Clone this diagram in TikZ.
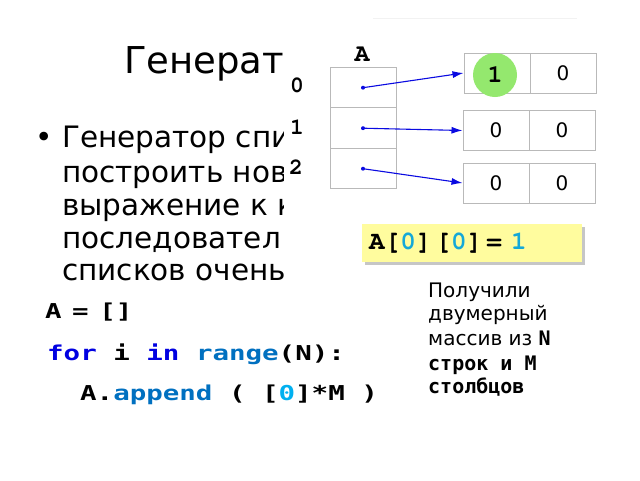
\documentclass[tikz,border=0pt]{standalone}
\usepackage{fontspec}
\setmainfont{DejaVu Sans}
\newfontfamily\codefont{DejaVu Sans Mono}
\newfontfamily\widecode{DejaVu Sans Mono}[FakeStretch=1.34]
\newfontfamily\courfont{TeX Gyre Cursor}
\usetikzlibrary{arrows.meta,positioning}

\definecolor{kwblue}{RGB}{0,0,225}
\definecolor{fnblue}{RGB}{0,112,192}
\definecolor{numcyan}{RGB}{0,176,240}
\definecolor{digcyan}{RGB}{20,168,216}
\definecolor{boxyellow}{RGB}{255,252,158}
\definecolor{circgreen}{RGB}{148,232,110}
\definecolor{ptrblue}{RGB}{10,10,225}

\tikzset{
  cell/.style={draw=gray!55, line width=1pt, minimum width=66pt,
    minimum height=40.5pt, inner sep=0pt, font=\fontsize{20}{20}\selectfont},
  ptr/.style={ptrblue, line width=1.1pt, -{Latex[length=11pt,width=7pt]}},
  idx/.style={font=\courfont\bfseries\fontsize{23}{23}\selectfont, inner sep=0pt},
  txt/.style={anchor=base west, inner sep=0pt},
  bigtxt/.style={txt, font=\fontsize{29.5}{29.5}\selectfont},
  smalltxt/.style={txt, font=\fontsize{20}{20}\selectfont},
  code/.style={txt, font=\widecode\bfseries\fontsize{20.5}{20.5}\selectfont},
}

\begin{document}
\begin{tikzpicture}[x=1pt,y=-1pt]
\useasboundingbox[fill=white] (0,0) rectangle (640,480);

% title and bullet, cut off by the picture on the right
\begin{scope}
\clip (0,0) rectangle (283,290);
\node[txt, font=\fontsize{37}{37}\selectfont] (title) at (124,73) {Генерат};
\node[bigtxt] (bul) at (35,147) {•};
\node[bigtxt] (l1) at (62,147) {Генератор спи};
\node[bigtxt] (l2) at (62,182) {построить нов};
\node[bigtxt] (l3) at (62,215) {выражение к к};
\node[bigtxt] (l4) at (62,248) {последовател};
\node[bigtxt] (l5) at (62,280) {списков очень};
\end{scope}

% code
\node[code] (c1) at (45,318) {A\kern10.4pt=\kern10.6pt[]};
\node[code] (c2) at (47,360) {{\color{kwblue}for} i {\color{kwblue}in}
  {\color{fnblue}range}(N):};
\node[code] (c3) at (80,400) {A.{\color{fnblue}append} ( [{\color{numcyan}0}]*M )};

% faint edge
\draw[gray!10, line width=0.8pt] (373,18) -- (577,18);

% the list A
\node[idx, font=\courfont\bfseries\fontsize{25}{25}\selectfont] (lblA) at (362,54) {A};
\node[cell] (a0) at (363,87.7) {};
\node[cell] (a1) at (363,128.2) {};
\node[cell] (a2) at (363,168.7) {};
\node[idx] (i0) at (297,85) {0};
\node[idx] (i1) at (297,127) {1};
\node[idx] (i2) at (296,167) {2};

% rows
\node[cell, minimum height=40pt] (r00) at (497,73) {};
\node[cell, minimum height=40pt] (r01) at (563,73) {0};
\node[cell] (r10) at (496,130.5) {0};
\node[cell] (r11) at (562,130.5) {0};
\node[cell, minimum height=40pt] (r20) at (496,183) {0};
\node[cell, minimum height=40pt] (r21) at (562,183) {0};
\node[circle, fill=circgreen, minimum size=44pt, inner sep=0pt,
  font=\courfont\bfseries\fontsize{25}{25}\selectfont] (one) at (495,75) {1};

% pointers
\foreach \i/\r in {0/r00,1/r10,2/r20}{
  \fill[ptrblue] (a\i.center) circle (2pt);
  \draw[ptr] (a\i.center) -- (\r.west);
}

% A[0][0] = 1
\fill[gray!45] (365,227) rectangle (585,265);
\node[fill=boxyellow, anchor=west, minimum height=38pt, text width=206pt,
  inner xsep=7pt, inner ysep=0pt, align=left,
  font=\courfont\bfseries\fontsize{26}{26}\selectfont] (setcmd) at (362,243)
  {A[{\color{digcyan}0}]\kern4pt[{\color{digcyan}0}]\kern4pt=\kern9pt{\color{digcyan}1}};

% note
\node[smalltxt] (n1) at (428,297) {Получили};
\node[smalltxt] (n2) at (428,320) {двумерный};
\node[smalltxt] (n3) at (428,345) {массив из {\codefont\bfseries N}};
\node[smalltxt] (n4) at (428,370) {\codefont\bfseries строк и M};
\node[smalltxt] (n5) at (428,393) {\codefont\bfseries столбцов};
\end{tikzpicture}
\end{document}
